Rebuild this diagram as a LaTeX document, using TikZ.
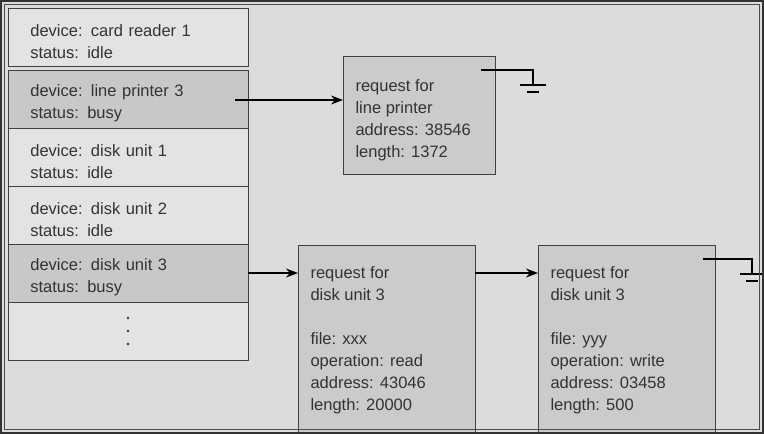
\documentclass[tikz,border=0pt]{standalone}
\usepackage{fontspec}
\setmainfont{Liberation Sans}
\usetikzlibrary{arrows.meta}
\definecolor{bg}{HTML}{DCDCDC}
\definecolor{rowlight}{HTML}{E3E3E3}
\definecolor{rowdark}{HTML}{C8C8C8}
\definecolor{reqfill}{HTML}{CBCBCB}
\tikzset{
  txt/.style={font=\fontsize{16.5}{22}\selectfont,text=black!80,align=left},
  row/.style={draw=black!75,line width=.8pt,minimum width=240pt,minimum height=58pt,
    text width=196pt,inner xsep=22pt,inner ysep=0pt,anchor=north west,txt},
  req/.style={draw=black!75,line width=.8pt,fill=reqfill},
  link/.style={line width=1.2pt,-{Stealth[length=12pt,width=9pt]}},
  gnd/.style={line width=1.6pt}
}
\begin{document}
\begin{tikzpicture}[x=1pt,y=-1pt]
  \useasboundingbox (0,0) rectangle (764,434);
  \fill[bg] (0,0) rectangle (764,434);
  % device table
  \foreach \i/\ty/\dev/\st/\col in {%
    1/8/card reader 1/idle/rowlight,
    2/70/line printer 3/busy/rowdark,
    3/128/disk unit 1/idle/rowlight,
    4/186/disk unit 2/idle/rowlight,
    5/244/disk unit 3/busy/rowdark}{%
      \node[row,fill=\col] (r\i) at (8,\ty) {\rule{0pt}{20pt}device: \dev\\status: \st};
    }
  \node[row,fill=rowlight] (r6) at (8,302) {};
  \foreach \dy in {318,331,344}
    \fill[black!80] (128,\dy) circle (1.4pt);
  % requests
  \draw[req] (343,56) rectangle (495,174);
  \node[anchor=north west,txt] (lp) at (352,76)
    {request for\\line printer\\address: 38546\\length: 1372};
  \draw[req] (298,245) rectangle (475,436);
  \node[anchor=north west,txt] (da) at (307,263)
    {request for\\disk unit 3\\[22pt]file: xxx\\operation: read\\address: 43046\\length: 20000};
  \draw[req] (538,245) rectangle (715,436);
  \node[anchor=north west,txt] (db) at (547,263)
    {request for\\disk unit 3\\[22pt]file: yyy\\operation: write\\address: 03458\\length: 500};
  \coordinate (lpin) at (343,100);
  \coordinate (dain) at (298,273);
  \coordinate (daout) at (475,273);
  \coordinate (dbin) at (538,273);
  \draw[link] (235,100) -- (lpin);
  \draw[link] (248,273) -- (dain);
  \draw[link] (daout) -- (dbin);
  % null pointers
  \draw[gnd] (481,70) -- (533,70) -- (533,85);
  \draw[gnd] (520,85) -- (546,85) (527,92) -- (539,92);
  \draw[gnd] (703,259) -- (752,259) -- (752,274);
  \draw[gnd] (740,274) -- (764,274) (746,281) -- (758,281);
  % frame
  \draw[black!80,line width=2pt] (1,1) rectangle (763,433);
  \draw[black!70,line width=.8pt] (4.5,4.5) rectangle (759.5,429.5);
\end{tikzpicture}
\end{document}
